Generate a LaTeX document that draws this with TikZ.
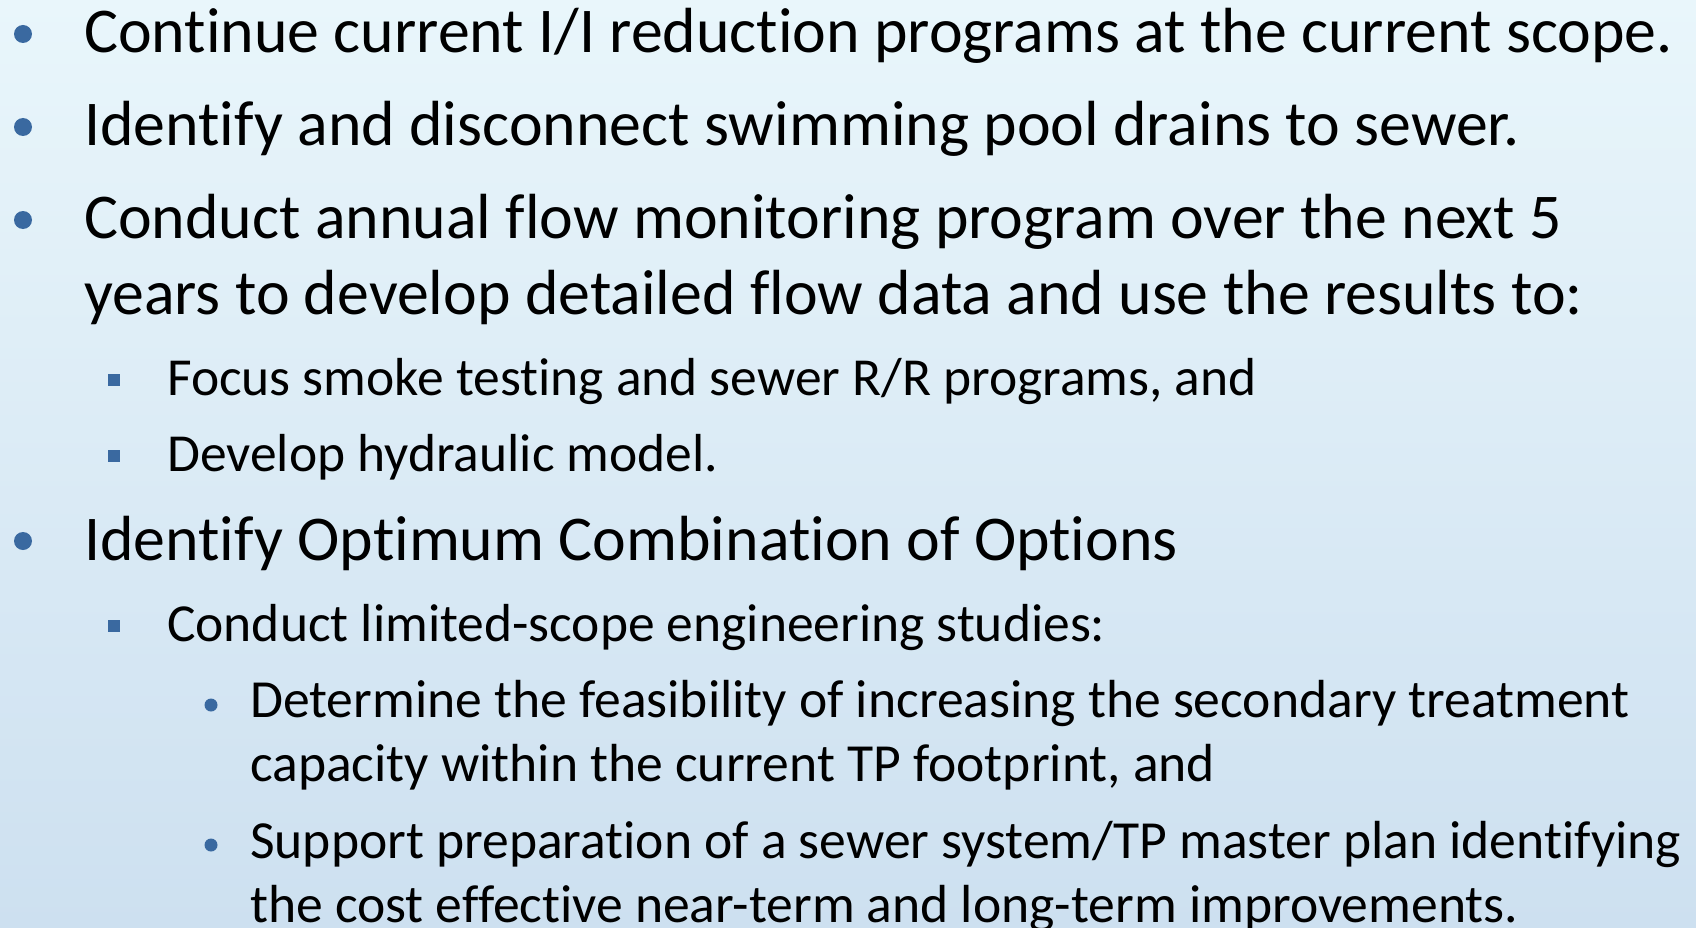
\documentclass[tikz,border=0pt]{standalone}
\usepackage{fontspec}
\setmainfont{Carlito}[RawFeature={-liga;-clig;-dlig;-calt}]
\usepackage{xcolor}
\usetikzlibrary{positioning}

\definecolor{slidetop}{HTML}{E9F6FB}
\definecolor{slidebottom}{HTML}{CDE0F0}
\definecolor{bulletblue}{HTML}{3A69A0}

\tikzset{
    lvlone/.style={anchor=base west, inner sep=0pt, font=\fontsize{63.8}{74}\selectfont},
    lvltwo/.style={anchor=base west, inner sep=0pt, font=\fontsize{53.5}{64}\selectfont},
    lvlthree/.style={anchor=base west, inner sep=0pt, font=\fontsize{53.6}{64}\selectfont},
}

\begin{document}
\begin{tikzpicture}[x=1pt, y=-1pt]
    % Slide background
    \useasboundingbox (0,0) rectangle (1696,928);
    \shade[top color=slidetop, bottom color=slidebottom] (0,0) rectangle (1696,928);
    \clip (0,0) rectangle (1696,928);

    % Top level bullets
    \foreach \y in {34,127,220,541}
        \fill[bulletblue] (23,\y) circle (9);
    \node[lvlone] (cont) at (84,53) {Continue current I/I reduction programs at the current scope.};
    \node[lvlone] (pool) at (84,146) {Identify and disconnect swimming pool drains to sewer.};
    \node[lvlone] (flow) at (84,238) {Conduct annual flow monitoring program over the next 5};
    \node[lvlone] (flowb) at (84,314) {years to develop detailed flow data and use the results to:};

    % Flow monitoring sub-items
    \foreach \y in {380,456,626}
        \fill[bulletblue] (108,\y-6) rectangle (120,\y+6);
    \node[lvltwo] (smoke) at (167,395) {Focus smoke testing and sewer R/R programs, and};
    \node[lvltwo] (model) at (167,471) {Develop hydraulic model.};

    % Optimum combination
    \node[lvlone] (optim) at (84,560) {Identify Optimum Combination of Options};
    \node[lvltwo] (study) at (167,641) {Conduct limited-scope engineering studies:};

    % Engineering study items
    \foreach \y in {705,845}
        \fill[bulletblue] (211,\y) circle (6.5);
    \node[lvlthree] (feas) at (250,717) {Determine the feasibility of increasing the secondary treatment};
    \node[lvlthree] (feasb) at (250,781) {capacity within the current TP footprint, and};
    \node[lvlthree] (plan) at (250,858) {Support preparation of a sewer system/TP master plan identifying};
    \node[lvlthree] (planb) at (250,922) {the cost effective near-term and long-term improvements.};
\end{tikzpicture}
\end{document}
